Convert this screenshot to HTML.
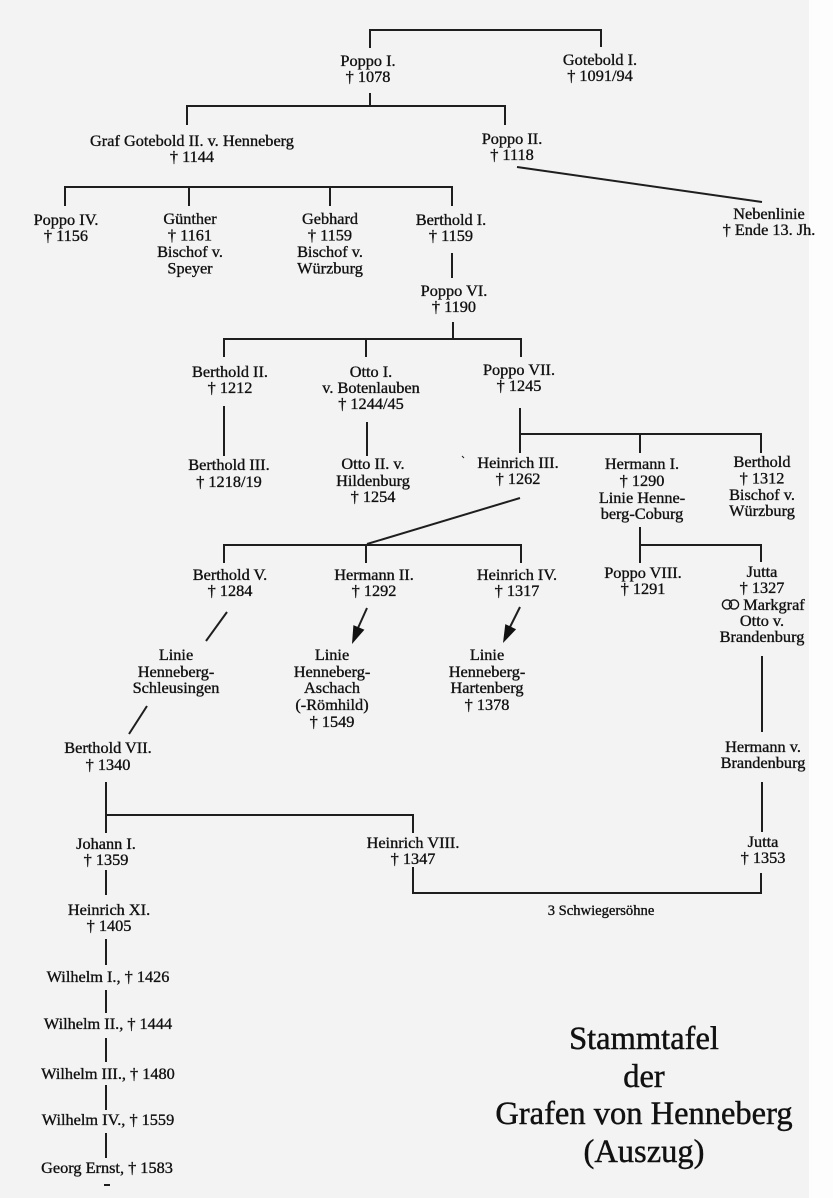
<!DOCTYPE html>
<html>
<head>
<meta charset="utf-8">
<style>
html,body{margin:0;padding:0;background:#f3f3f3;}
svg{display:block;}
text{font-family:"Liberation Serif","DejaVu Serif",serif;font-size:16.3px;fill:#111;stroke:#111;stroke-width:0.35;text-anchor:middle;}
.t{font-size:32.5px;stroke-width:0.45;}
.s{font-size:14.6px;}
</style>
</head>
<body>
<svg width="833" height="1198" viewBox="0 0 833 1198" xmlns="http://www.w3.org/2000/svg">
<rect x="0" y="0" width="833" height="1198" fill="#f3f3f3"/>
<rect x="809" y="0" width="24" height="1198" fill="#fdfdfd"/>

<g fill="none" stroke="#1e1e1e" stroke-width="2">
<path d="M370,48 V30 H601 V47"/>
<path d="M370,93 V106"/>
<path d="M187,125 V106 H505 V125"/>
<path d="M517,167 L762,202"/>
<path d="M65,206 V187 H452 V206"/>
<path d="M189,187 V206"/>
<path d="M330,187 V206"/>
<path d="M452,253 V278"/>
<path d="M453,322 V339"/>
<path d="M224,357 V339 H521 V357"/>
<path d="M366,339 V357"/>
<path d="M224,406 V456"/>
<path d="M367,422 V456"/>
<path d="M520,408 V453"/>
<path d="M520,434 H761 V453"/>
<path d="M640,434 V453"/>
<path d="M520,498 L367,544"/>
<path d="M224,563 V545 H521 V563"/>
<path d="M366,545 V563"/>
<path d="M640,527 V563"/>
<path d="M640,545 H761 V562"/>
<path d="M227,612 L206,641"/>
<path d="M367,608 L358,628"/>
<path d="M520,607 L510,627"/>
<path d="M147,706 L129,734"/>
<path d="M762,656 V732"/>
<path d="M762,782 V832"/>
<path d="M106,782 V833"/>
<path d="M106,815 H413 V833"/>
<path d="M413,867 V893 H761 V873"/>
<path d="M106,870 V895"/>
<path d="M106,939 V965"/>
<path d="M106,990 V1013"/>
<path d="M106,1038 V1062"/>
<path d="M106,1085 V1110"/>
<path d="M106,1133 V1158"/>
<path d="M104,1185 H110"/>
<path d="M462,456 L464,458" stroke-width="1"/>
</g>
<polygon points="352,644 364.4,629.7 353.4,625.1" fill="#111"/>
<polygon points="503,643 516.1,629.3 505.3,624.1" fill="#111"/>

<!-- marriage symbol -->
<g fill="none" stroke="#161616" stroke-width="1.4">
<circle cx="727" cy="604.5" r="4.6"/>
<circle cx="734" cy="604.5" r="4.6"/>
</g>

<text x="368" y="66">Poppo I.</text>
<text x="368" y="82">† 1078</text>
<text x="600" y="65">Gotebold I.</text>
<text x="600" y="81">† 1091/94</text>

<text x="192" y="146">Graf Gotebold II. v. Henneberg</text>
<text x="192" y="162">† 1144</text>
<text x="512" y="144">Poppo II.</text>
<text x="512" y="160">† 1118</text>
<text x="769" y="219">Nebenlinie</text>
<text x="769" y="235">† Ende 13. Jh.</text>

<text x="66" y="225">Poppo IV.</text>
<text x="66" y="241">† 1156</text>
<text x="190" y="224">Günther</text>
<text x="190" y="240.5">† 1161</text>
<text x="190" y="257">Bischof v.</text>
<text x="190" y="273.5">Speyer</text>
<text x="330" y="224">Gebhard</text>
<text x="330" y="240.5">† 1159</text>
<text x="330" y="257">Bischof v.</text>
<text x="330" y="273.5">Würzburg</text>
<text x="451" y="225">Berthold I.</text>
<text x="451" y="241">† 1159</text>

<text x="454" y="296">Poppo VI.</text>
<text x="454" y="312">† 1190</text>

<text x="230" y="377">Berthold II.</text>
<text x="230" y="393">† 1212</text>
<text x="371" y="377">Otto I.</text>
<text x="371" y="393">v. Botenlauben</text>
<text x="371" y="409">† 1244/45</text>
<text x="519" y="375">Poppo VII.</text>
<text x="519" y="391">† 1245</text>

<text x="229" y="470">Berthold III.</text>
<text x="229" y="487">† 1218/19</text>
<text x="373" y="469">Otto II. v.</text>
<text x="373" y="486">Hildenburg</text>
<text x="373" y="502">† 1254</text>
<text x="518" y="468">Heinrich III.</text>
<text x="518" y="484">† 1262</text>
<text x="642" y="469">Hermann I.</text>
<text x="642" y="486">† 1290</text>
<text x="642" y="503">Linie Henne-</text>
<text x="642" y="519">berg-Coburg</text>
<text x="762" y="467">Berthold</text>
<text x="762" y="483.5">† 1312</text>
<text x="762" y="500">Bischof v.</text>
<text x="762" y="516">Würzburg</text>

<text x="230" y="580">Berthold V.</text>
<text x="230" y="596">† 1284</text>
<text x="374" y="580">Hermann II.</text>
<text x="374" y="596">† 1292</text>
<text x="517" y="580">Heinrich IV.</text>
<text x="517" y="596">† 1317</text>
<text x="643" y="578">Poppo VIII.</text>
<text x="643" y="594">† 1291</text>
<text x="762" y="577">Jutta</text>
<text x="762" y="593">† 1327</text>
<text x="774" y="610">Markgraf</text>
<text x="762" y="626">Otto v.</text>
<text x="762" y="642">Brandenburg</text>

<text x="176" y="660">Linie</text>
<text x="176" y="677">Henneberg-</text>
<text x="176" y="693">Schleusingen</text>
<text x="332" y="660">Linie</text>
<text x="332" y="677">Henneberg-</text>
<text x="332" y="693">Aschach</text>
<text x="332" y="710">(-Römhild)</text>
<text x="332" y="727">† 1549</text>
<text x="487" y="660">Linie</text>
<text x="487" y="677">Henneberg-</text>
<text x="487" y="693">Hartenberg</text>
<text x="487" y="710">† 1378</text>

<text x="763" y="752">Hermann v.</text>
<text x="763" y="768">Brandenburg</text>
<text x="108" y="753">Berthold VII.</text>
<text x="108" y="770">† 1340</text>

<text x="106" y="849">Johann I.</text>
<text x="106" y="865">† 1359</text>
<text x="413" y="848">Heinrich VIII.</text>
<text x="413" y="864">† 1347</text>
<text x="763" y="847">Jutta</text>
<text x="763" y="863">† 1353</text>

<text class="s" x="601" y="915">3 Schwiegersöhne</text>

<text x="109" y="915">Heinrich XI.</text>
<text x="109" y="931">† 1405</text>
<text x="108" y="982">Wilhelm I., † 1426</text>
<text x="108" y="1029">Wilhelm II., † 1444</text>
<text x="108" y="1079">Wilhelm III., † 1480</text>
<text x="108" y="1125">Wilhelm IV., † 1559</text>
<text x="107" y="1173">Georg Ernst, † 1583</text>

<text class="t" x="644" y="1049">Stammtafel</text>
<text class="t" x="644" y="1087">der</text>
<text class="t" x="644" y="1124">Grafen von Henneberg</text>
<text class="t" x="644" y="1162">(Auszug)</text>
</svg>
</body>
</html>
